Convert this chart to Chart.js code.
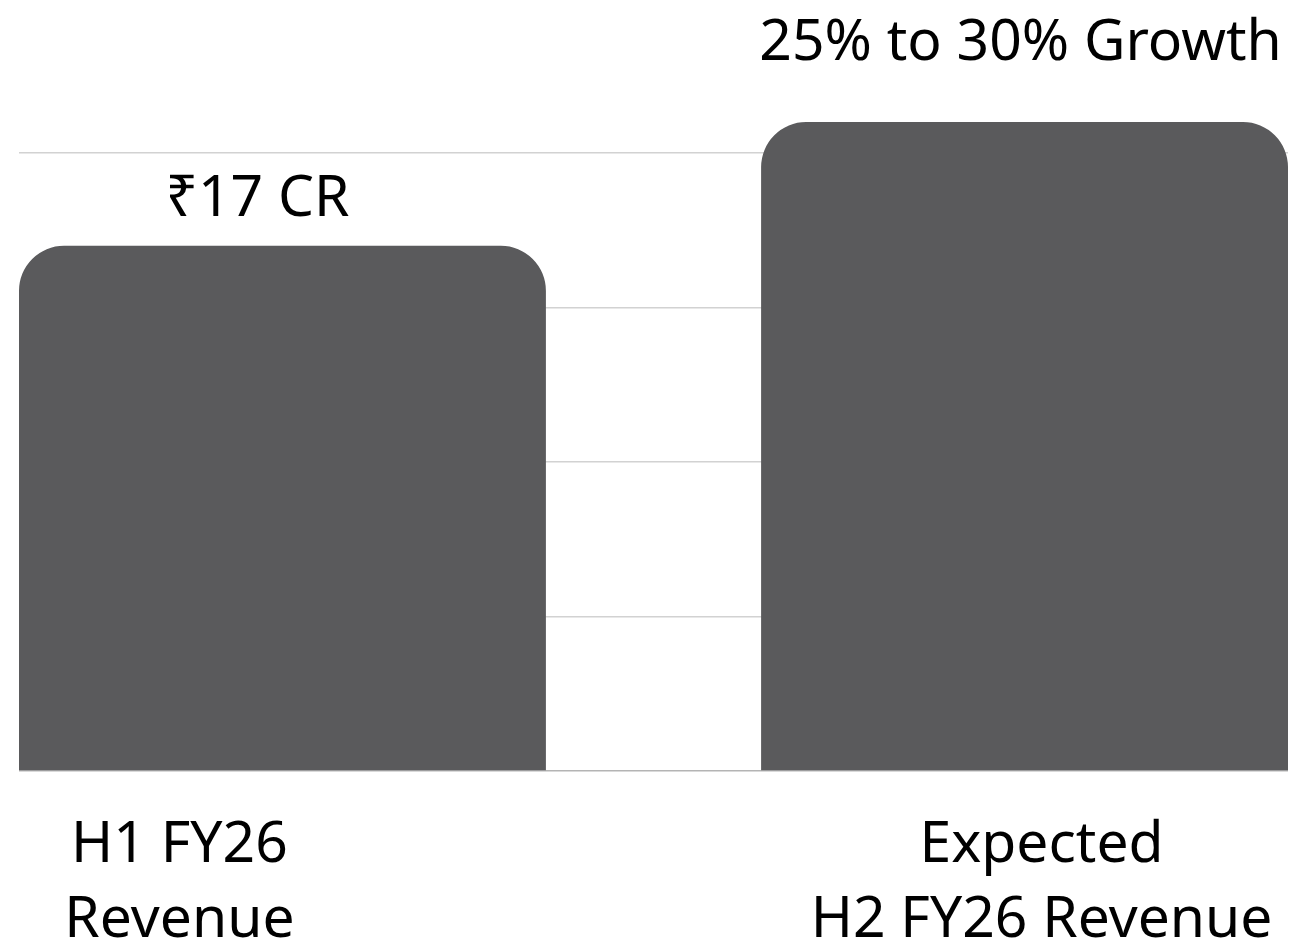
<!DOCTYPE html>
<html>
<head>
<meta charset="utf-8">
<script src="https://cdn.jsdelivr.net/npm/chart.js@4"></script>
<style>
  html, body { margin: 0; padding: 0; background: #ffffff; }
  #wrap { width: 1292px; height: 946px; position: relative; }
</style>
</head>
<body>
<div id="wrap"><canvas id="c" width="1292" height="946"></canvas></div>
<script>
// ---- data ----
const categories = [["H1 FY26", "Revenue"], ["Expected", "H2 FY26 Revenue"]];
const revenueValues = [17, 21];
const topLabels = ["₹17 CR", "25% to 30% Growth"];
const yTicks = [0, 5, 10, 15, 20];

const FONT = '"Noto Sans", "DejaVu Sans", sans-serif';
const BAR_COLOR = '#5a5a5c';

// label placement (relative to each bar)
const topLabelStyle = [{ dx: -25, gap: 30 }, { dx: -4, gap: 62 }];
const catLabelStyle = [{ dx: -103 }, { dx: 17 }];

const labelPlugin = {
  id: 'labels',
  afterDatasetsDraw(chart) {
    const ctx = chart.ctx;
    const meta = chart.getDatasetMeta(0);
    const area = chart.chartArea;
    ctx.save();
    ctx.fillStyle = '#000000';
    ctx.textAlign = 'center';
    ctx.textBaseline = 'alphabetic';
    ctx.font = '400 57px ' + FONT;
    meta.data.forEach((bar, i) => {
      const t = topLabelStyle[i];
      ctx.fillText(topLabels[i], bar.x + t.dx, bar.y - t.gap);
      const c = catLabelStyle[i];
      categories[i].forEach((line, j) => {
        ctx.fillText(line, bar.x + c.dx, area.bottom + 91 + j * 75);
      });
    });
    ctx.restore();
  }
};

new Chart(document.getElementById('c'), {
  type: 'bar',
  data: {
    datasets: [{
      data: revenueValues.map((v, i) => ({ x: i, y: v })),
      backgroundColor: BAR_COLOR,
      borderWidth: 0,
      borderSkipped: 'bottom',
      borderRadius: { topLeft: 45, topRight: 45, bottomLeft: 0, bottomRight: 0 },
      categoryPercentage: 1,
      barPercentage: 0.71,
      clip: false
    }]
  },
  options: {
    responsive: false,
    animation: false,
    events: [],
    layout: { padding: { left: 19, right: 4, top: 153, bottom: 175 } },
    plugins: { legend: { display: false }, tooltip: { enabled: false } },
    scales: {
      x: {
        type: 'linear',
        display: false,
        offset: false,
        min: -0.355,
        max: 1.355,
        afterBuildTicks(scale) { scale.ticks = revenueValues.map((v, i) => ({ value: i })); }
      },
      y: {
        min: 0,
        max: 20,
        afterBuildTicks(scale) { scale.ticks = yTicks.map(v => ({ value: v })); },
        ticks: { display: false },
        border: { display: false },
        grid: {
          drawTicks: false,
          lineWidth: 1.5,
          color: (ctx) => ctx.tick && ctx.tick.value === 0 ? '#b4b4b4' : '#d2d2d2'
        }
      }
    }
  },
  plugins: [labelPlugin]
});
</script>
</body>
</html>
